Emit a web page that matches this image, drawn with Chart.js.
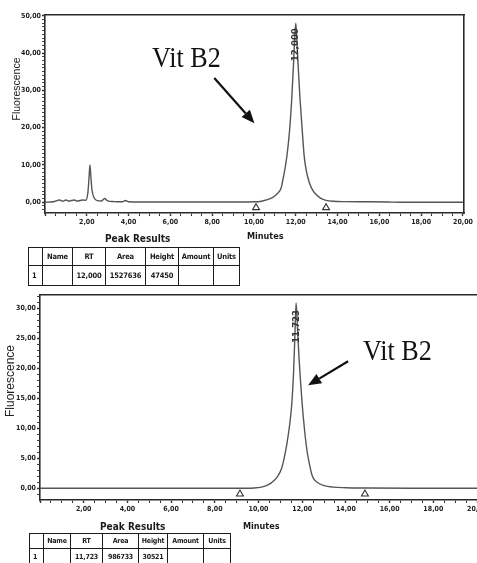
<!DOCTYPE html>
<html>
<head>
<meta charset="utf-8">
<script src="https://cdn.jsdelivr.net/npm/chart.js@4.4.0/dist/chart.umd.min.js"></script>
<style>
  body { margin: 0; background: #fff; overflow: hidden; }
  #page { position: relative; width: 477px; height: 563px; overflow: hidden; color: #1a1a1a;
          font-family: 'Liberation Sans Narrow', 'DejaVu Sans Condensed', sans-serif; }
  canvas { position: absolute; left: 0; }
  .lbl { position: absolute; font-weight: bold; white-space: nowrap; line-height: 1; }
  .vit { position: absolute; font-family: 'Liberation Serif', 'Times New Roman', serif; font-size: 30px;
         line-height: 1; white-space: nowrap; transform-origin: left top; transform: scaleX(0.87); color: #111; }
  .fluo { position: absolute; font-family: 'Liberation Sans', Arial, sans-serif; white-space: nowrap;
          line-height: 1; transform: translate(-50%, -50%) rotate(-90deg); color: #222; }
  table { position: absolute; border-collapse: collapse; table-layout: fixed; font-weight: bold; letter-spacing: -0.2px; }
  td { border: 1.6px solid #1c1c1c; padding: 0; text-align: center; overflow: hidden; white-space: nowrap; }
  td.first { text-align: left; padding-left: 3px; }
</style>
</head>
<body>
<div id="page">
  <canvas id="topChart" width="477" height="290" style="top:0"></canvas>
  <canvas id="bottomChart" width="500" height="273" style="top:290px"></canvas>

  <div class="vit" style="left:152px; top:42px">Vit B2</div>
  <div class="vit" style="left:363px; top:335px">Vit B2</div>

  <div class="fluo" style="left:16px; top:89px; font-size:10.5px">Fluorescence</div>
  <div class="fluo" style="left:10px; top:381px; font-size:12px">Fluorescence</div>

  <div class="lbl" style="left:247px; top:232px; font-size:9px">Minutes</div>
  <div class="lbl" style="left:243px; top:522px; font-size:9px">Minutes</div>

  <div class="lbl" style="left:105px; top:234px; font-size:10px">Peak Results</div>
  <div class="lbl" style="left:100px; top:522px; font-size:10px">Peak Results</div>

  <table id="topTable" style="left:28px; top:247px; font-size:7.5px"></table>
  <table id="bottomTable" style="left:29px; top:533px; font-size:7px"></table>
</div>

<script>
// first chromatogram (top)
const topMinutes = [0, 0.4, 0.7, 0.85, 1.0, 1.15, 1.4, 1.55, 1.8, 1.95,
  2.05, 2.1, 2.15, 2.2, 2.25, 2.35, 2.5, 2.7, 2.85, 3.0,
  3.3, 3.7, 3.85, 4.0, 4.5, 6.0, 8.0, 9.5, 10.0, 10.3,
  10.6, 10.9, 11.1, 11.3, 11.4, 11.5, 11.6, 11.7, 11.8, 11.9,
  11.95, 12.0, 12.05, 12.1, 12.2, 12.3, 12.4, 12.5, 12.65, 12.8,
  13.0, 13.2, 13.45, 13.8, 14.3, 15.5, 16.4, 17.0, 18.5, 20.0];
const topFluor = [0, 0.1, 0.6, 0.25, 0.6, 0.3, 0.6, 0.3, 0.6, 0.5,
  2.5, 6.0, 10.0, 6.5, 3.2, 1.2, 0.4, 0.3, 1.0, 0.35,
  0.15, 0.1, 0.45, 0.1, 0.05, 0.05, 0.05, 0.05, 0.1, 0.2,
  0.6, 1.3, 2.2, 3.8, 6.5, 9.5, 13.5, 19, 27, 38,
  44, 48, 44, 38, 28, 20, 12.5, 8.5, 5.2, 3.3,
  1.9, 1.0, 0.5, 0.25, 0.15, 0.1, 0.05, 0, 0, 0];
const topMarks = [10.1, 13.45];

// second chromatogram (bottom)
const bottomMinutes = [0, 2.0, 4.0, 6.0, 8.0, 9.0, 9.8, 10.3, 10.6, 10.87,
  11.05, 11.17, 11.3, 11.42, 11.52, 11.6, 11.66, 11.72, 11.78, 11.85,
  11.92, 12.0, 12.1, 12.2, 12.3, 12.47, 12.7, 13.0, 13.4, 14.0,
  15.0, 17.0, 20.2];
const bottomFluor = [0.05, 0.05, 0.05, 0.05, 0.05, 0.05, 0.1, 0.4, 1.0, 2.0,
  3.3, 5.0, 7.5, 10.5, 14, 19, 25, 30.9, 27, 22,
  18, 14, 10, 6.8, 4.6, 2.0, 1.0, 0.5, 0.25, 0.15,
  0.1, 0.05, 0.05];
const bottomMarks = [9.15, 14.87];

const xLabelMinutes = [2, 4, 6, 8, 10, 12, 14, 16, 18, 20];

const tableHead = ['', 'Name', 'RT', 'Area', 'Height', 'Amount', 'Units'];
const topRow = ['1', '', '12,000', '1527636', '47450', '', ''];
const bottomRow = ['1', '', '11,723', '986733', '30521', '', ''];

const tickFont = { family: "'Liberation Sans Narrow', 'DejaVu Sans Condensed', sans-serif", size: 7, weight: 'bold' };
const ink = '#222';

function fmt(v) { return v.toFixed(2).replace('.', ','); }
function near(v, list) { return list.some(m => Math.abs(m - v) < 1e-6); }
function every(v, step) { return v >= 0 && Math.abs(v / step - Math.round(v / step)) < 1e-6; }

// retention time label + arrow, placed through the chart scales
const peakNote = {
  id: 'peakNote',
  afterDatasetsDraw(chart, args, o) {
    const { ctx, scales: { x, y } } = chart;
    const px = x.getPixelForValue(o.rt), py = y.getPixelForValue(o.apex);
    ctx.save();
    ctx.translate(px, py + o.gap);
    ctx.rotate(-Math.PI / 2);
    ctx.font = "bold 9.5px 'Liberation Sans Narrow', 'DejaVu Sans Condensed', sans-serif";
    ctx.fillStyle = '#333';
    ctx.textAlign = 'right';
    ctx.textBaseline = 'middle';
    ctx.fillText(o.text, 0, 0);
    ctx.restore();

    const x0 = x.getPixelForValue(o.from[0]), y0 = y.getPixelForValue(o.from[1]);
    const x1 = x.getPixelForValue(o.to[0]), y1 = y.getPixelForValue(o.to[1]);
    const a = Math.atan2(y1 - y0, x1 - x0), head = 13, half = 5.5;
    const bx = x1 - head * Math.cos(a), by = y1 - head * Math.sin(a);
    ctx.save();
    ctx.strokeStyle = '#111';
    ctx.fillStyle = '#111';
    ctx.lineWidth = 2.2;
    ctx.beginPath();
    ctx.moveTo(x0, y0);
    ctx.lineTo(bx, by);
    ctx.stroke();
    ctx.beginPath();
    ctx.moveTo(x1, y1);
    ctx.lineTo(bx + half * Math.sin(a), by - half * Math.cos(a));
    ctx.lineTo(bx - half * Math.sin(a), by + half * Math.cos(a));
    ctx.closePath();
    ctx.fill();
    ctx.restore();
  }
};

function buildChart(id, c) {
  const trace = c.minutes.map((m, i) => ({ x: m, y: c.fluor[i] }));
  const marks = c.marks.map(m => ({ x: m, y: c.markLevel }));
  const apex = Math.max(...c.fluor);
  const rt = c.minutes[c.fluor.indexOf(apex)];
  const frame = { color: '#2a2a2a', width: 1.6 };

  return new Chart(document.getElementById(id).getContext('2d'), {
    type: 'scatter',
    data: {
      datasets: [
        { data: trace, showLine: true, borderColor: '#555', borderWidth: 1.4,
          pointRadius: 0, cubicInterpolationMode: 'monotone', fill: false },
        { data: marks, pointStyle: 'triangle', pointRadius: 4, borderColor: '#333',
          backgroundColor: '#fff', borderWidth: 1.1 }
      ]
    },
    options: {
      responsive: false,
      animation: false,
      events: [],
      layout: { padding: c.padding },
      plugins: {
        legend: { display: false },
        tooltip: { enabled: false },
        peakNote: { rt: rt, apex: apex, gap: c.gap, text: c.rtText, from: c.arrowFrom, to: c.arrowTo }
      },
      scales: {
        x: {
          type: 'linear', min: c.xMin, max: c.xMax,
          afterFit: s => { s.height = c.xAxisHeight; },
          ticks: { stepSize: 0.5, autoSkip: false, maxRotation: 0, includeBounds: false, padding: 2,
                   font: tickFont, color: ink,
                   callback: v => near(v, xLabelMinutes) ? fmt(v) : '' },
          grid: { drawOnChartArea: false, tickLength: 3, tickColor: '#333',
                  tickWidth: t => (t.tick && every(t.tick.value, 2)) ? 1.4 : 1 },
          border: frame
        },
        y: {
          min: c.yMin, max: c.yMax,
          afterFit: s => { s.width = c.yAxisWidth; },
          ticks: { stepSize: 1, autoSkip: false, includeBounds: false, padding: 1,
                   font: tickFont, color: ink,
                   callback: v => every(v, c.yLabelStep) ? fmt(v) : '' },
          grid: { drawOnChartArea: false, tickLength: 3, tickColor: '#333',
                  tickWidth: t => (t.tick && every(t.tick.value, c.yLabelStep)) ? 1.4 : 0.9 },
          border: frame
        },
        x2: {
          type: 'linear', position: 'top', min: c.xMin, max: c.xMax,
          afterFit: s => { s.height = 0; },
          ticks: { display: false }, grid: { display: false }, border: frame
        },
        y2: {
          position: 'right', min: c.yMin, max: c.yMax,
          afterFit: s => { s.width = 0; },
          ticks: { display: false }, grid: { display: false }, border: frame
        }
      }
    },
    plugins: [peakNote]
  });
}

function fillTable(id, widths, heights, row) {
  const t = document.getElementById(id);
  t.style.width = widths.reduce((a, b) => a + b, 0) + 'px';
  const cg = document.createElement('colgroup');
  widths.forEach(w => { const col = document.createElement('col'); col.style.width = w + 'px'; cg.appendChild(col); });
  t.appendChild(cg);
  [tableHead, row].forEach((cells, r) => {
    const tr = document.createElement('tr');
    tr.style.height = heights[r] + 'px';
    cells.forEach((txt, i) => {
      const td = document.createElement('td');
      td.textContent = txt;
      if (i === 0) td.className = 'first';
      tr.appendChild(td);
    });
    t.appendChild(tr);
  });
}

document.addEventListener('DOMContentLoaded', () => {
  buildChart('topChart', {
    minutes: topMinutes, fluor: topFluor, marks: topMarks, markLevel: -1.47,
    xMin: 0, xMax: 20.05, yMin: -2.9, yMax: 50.2, yLabelStep: 10,
    padding: { left: 0, right: 13, top: 15, bottom: 0 },
    xAxisHeight: 77, yAxisWidth: 45, gap: 5, rtText: '12,000',
    arrowFrom: [8.1, 33.3], arrowTo: [10.02, 21.2]
  });
  buildChart('bottomChart', {
    minutes: bottomMinutes, fluor: bottomFluor, marks: bottomMarks, markLevel: -0.9,
    xMin: 0, xMax: 20.2, yMin: -1.9, yMax: 32.2, yLabelStep: 5,
    padding: { left: 0, right: 18.6, top: 5, bottom: 0 },
    xAxisHeight: 63, yAxisWidth: 40, gap: 7, rtText: '11,723',
    arrowFrom: [14.1, 21.2], arrowTo: [12.27, 17.2]
  });
  fillTable('topTable', [14, 30, 33, 40, 33, 35, 26], [18, 20], topRow);
  fillTable('bottomTable', [14, 27, 32, 36, 29, 36, 27], [15, 16], bottomRow);
});
</script>
</body>
</html>
